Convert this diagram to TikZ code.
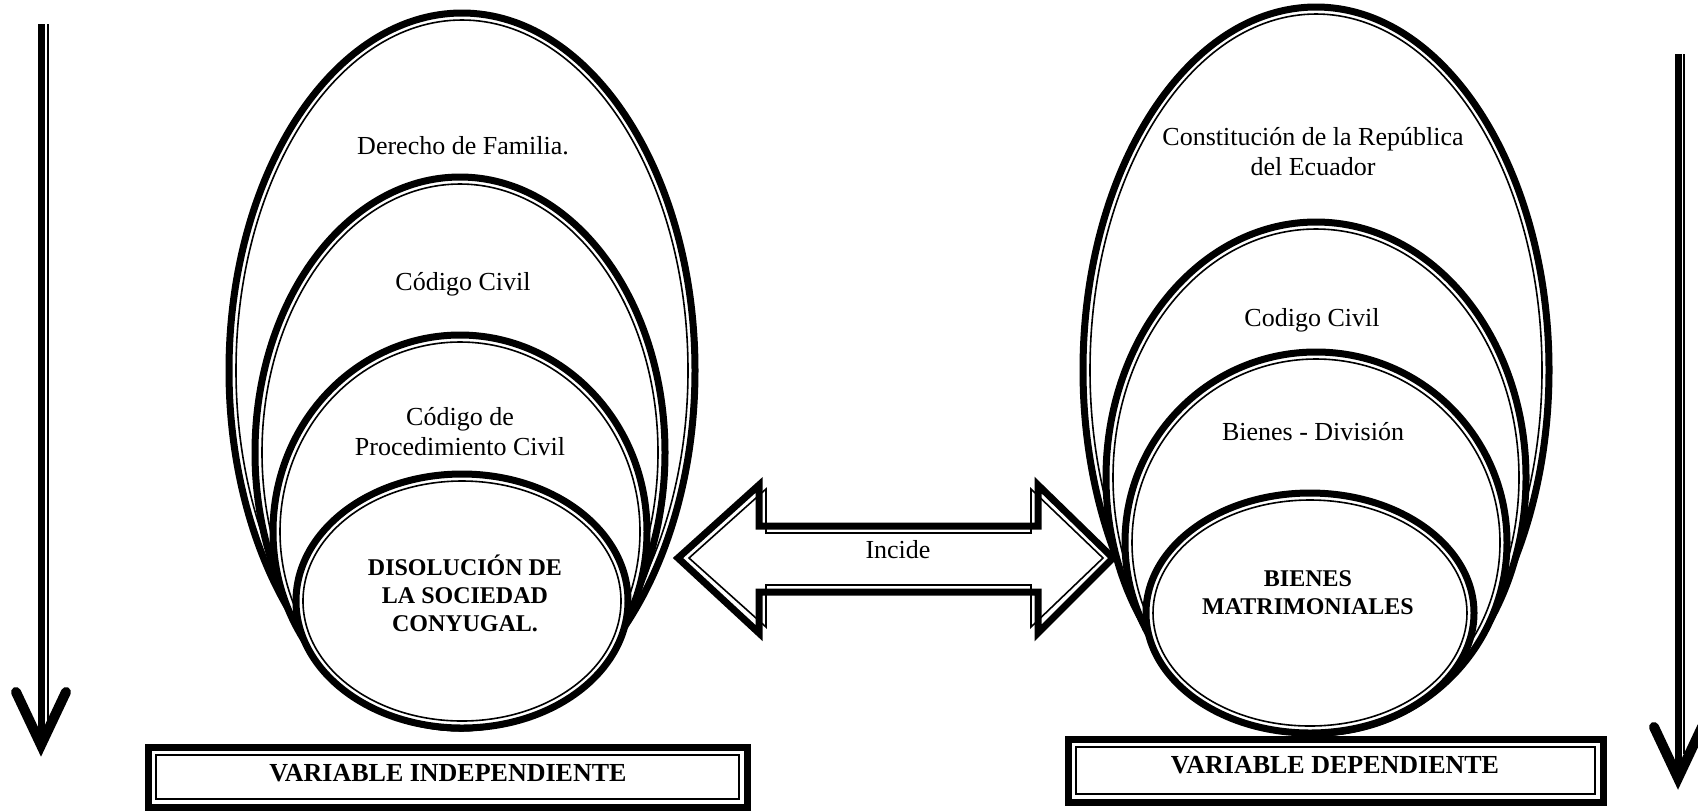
\documentclass[tikz,border=0pt]{standalone}
\usepackage{fontspec}
\setmainfont{Liberation Serif}
\begin{document}
\begin{tikzpicture}[x=0.5pt,y=-0.5pt,
  thickline/.style={line width=3.5pt},
  thinline/.style={line width=0.8pt},
  headline/.style={line width=5pt,line cap=round,line join=miter},
  txt/.style={font=\fontsize{13}{15}\selectfont,align=center,inner sep=0pt},
  btxt/.style={font=\fontsize{12}{14}\selectfont\bfseries,align=center,inner sep=0pt},
  vtxt/.style={font=\fontsize{13}{15}\selectfont\bfseries,inner sep=0pt}]
  \useasboundingbox (0,0) rectangle (1698,811);

  \coordinate (ltop) at (41,24); \coordinate (lbot) at (41,745);
  \draw[thickline] (ltop) -- (lbot);
  \draw[thinline] (ltop) ++(7,0) -- ++(0,700);
  \draw[headline] (lbot) ++(-25,-53) -- (lbot) -- ++(25,-53);

  \coordinate (rtop) at (1678,54); \coordinate (rbot) at (1678,778);
  \draw[thickline] (rtop) -- (rbot);
  \draw[thinline] (rtop) ++(6,0) -- ++(0,700);
  \draw[headline] (rbot) ++(-24,-51) -- (rbot) -- ++(24,-51);

  \foreach \cx/\cy/\rx/\ry in {462/370.5/233/357.5, 460/452.5/205/275.5,
      460/531.5/187/196.5, 462/601/166/127, 1316/370/233/363,
      1316/477.5/210/255.5, 1316/542.5/191/190.5, 1310/613/164/120}
  {
    \draw[thickline,fill=white] (\cx,\cy) ellipse [x radius=\rx, y radius=\ry];
    \draw[thinline] (\cx,\cy) ellipse [x radius=\rx-7, y radius=\ry-7];
  }

  \node[txt] (fam) at (463,146) {Derecho de Familia.};
  \node[txt] (cc) at (463,284) {Código Civil};
  \node[txt] (cpc) at (460,432) {Código de\\Procedimiento Civil};
  \node[btxt] (dsc) at (465,593) {DISOLUCIÓN DE\\LA SOCIEDAD\\CONYUGAL.};

  \node[txt] (cre) at (1313,152) {Constitución de la República\\del Ecuador};
  \node[txt] (cc2) at (1312,320) {Codigo Civil};
  \node[txt] (bd) at (1313,432) {Bienes - División};
  \node[btxt] (bm) at (1308,593) {BIENES\\MATRIMONIALES};

  \draw[thickline,fill=white] (678,558) -- (759,485) -- (759,526) -- (1038,526)
    -- (1038,485) -- (1113,558) -- (1038,633) -- (1038,592) -- (759,592)
    -- (759,633) -- cycle;
  \draw[thinline] (689,558) -- (766,489) -- (766,533) -- (1031,533)
    -- (1031,489) -- (1103,558) -- (1031,627) -- (1031,585) -- (766,585)
    -- (766,627) -- cycle;
  \node[txt] (inc) at (898,550) {Incide};

  \draw[thickline] (148,747) rectangle (747,807);
  \draw[thinline] (156,755) rectangle (739,799);
  \node[vtxt] (vi) at (448,773) {VARIABLE INDEPENDIENTE};

  \draw[thickline] (1068,739) rectangle (1603,802);
  \draw[thinline] (1076,747) rectangle (1595,794);
  \node[vtxt] (vd) at (1335,765) {VARIABLE DEPENDIENTE};
\end{tikzpicture}
\end{document}
